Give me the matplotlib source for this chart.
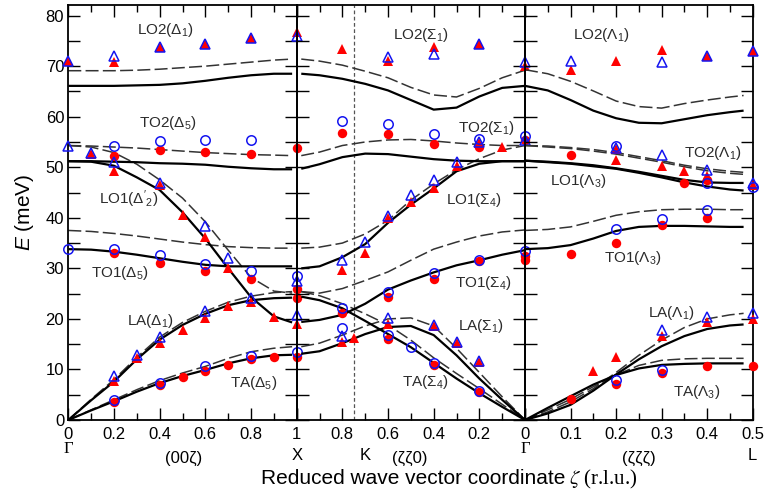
import numpy as np
import matplotlib
matplotlib.use("Agg")
import matplotlib.pyplot as plt
from matplotlib.ticker import FixedLocator, MultipleLocator

plt.rcParams['font.family'] = ['Liberation Sans', 'DejaVu Sans']
plt.rcParams['mathtext.fontset'] = 'custom'
plt.rcParams['mathtext.rm'] = 'Liberation Sans'
plt.rcParams['mathtext.it'] = 'Liberation Sans:italic'
plt.rcParams['mathtext.bf'] = 'Liberation Sans:bold'

# --------------------------------------------------
# Calculated dispersion curves (solid / dashed), meV
# --------------------------------------------------
# Gamma -> X  (00z)
q_gx = [0, 0.1, 0.2, 0.3, 0.4, 0.5, 0.6, 0.7, 0.8, 0.9, 0.98]
gx_lo2 = [66.1, 66.1, 66.1, 66.2, 66.3, 66.6, 67.1, 67.7, 68.2, 68.5, 68.5]
gx_to2 = [51.2, 51.2, 51.1, 51.0, 50.8, 50.7, 50.5, 50.1, 49.8, 49.6, 49.6]
gx_lo1 = [51.2, 51.1, 50.3, 48.0, 45.5, 41.1, 35.9, 30.0, 24.3, 20.5, 19.3]
gx_to1 = [33.8, 33.7, 33.3, 32.7, 32.0, 31.3, 30.7, 30.4, 30.4, 30.4, 30.4]
gx_la = [0, 3.9, 7.6, 12.0, 15.9, 18.8, 21.0, 22.7, 23.7, 24.1, 24.2]
gx_ta = [0, 1.9, 3.7, 5.6, 7.3, 8.7, 9.9, 11.2, 12.2, 12.8, 12.9]
gx_lo2_d = [69.1, 69.1, 69.1, 69.2, 69.4, 69.7, 70.0, 70.4, 70.8, 71.2, 71.4]
gx_to2_d = [54.3, 54.2, 54.0, 53.8, 53.5, 53.2, 52.9, 52.7, 52.5, 52.4, 52.3]
gx_lo1_d = [54.3, 54.0, 52.9, 50.6, 47.5, 43.9, 39.2, 33.6, 28.2, 25.5, 25.1]
gx_to1_d = [37.5, 37.3, 36.9, 36.4, 35.8, 35.2, 34.7, 34.3, 34.1, 34.0, 34.0]
gx_la_d = [0, 4.1, 8.0, 12.4, 16.4, 19.3, 21.5, 23.3, 24.5, 25.2, 25.4]
gx_ta_d = [0, 2.0, 4.0, 6.0, 7.8, 9.3, 10.6, 12.2, 13.5, 14.2, 14.5]

# X -> K -> Gamma  (zz0)
q_xg = [0.98, 0.9, 0.8, 0.7, 0.6, 0.5, 0.4, 0.3, 0.2, 0.1, 0]
xg_lo2 = [68.5, 68.2, 67.5, 66.5, 65.2, 63.3, 61.4, 61.8, 64.0, 65.7, 66.1]
xg_to2 = [49.7, 50.6, 52.0, 52.7, 52.6, 52.1, 51.6, 51.3, 51.2, 51.2, 51.2]
xg_lo1 = [30.0, 30.4, 32.2, 34.8, 39.0, 42.6, 45.8, 49.2, 50.7, 51.2, 51.2]
xg_to1 = [19.4, 19.8, 20.8, 23.0, 25.8, 27.6, 29.2, 30.6, 31.6, 32.7, 33.6]
xg_la = [13.1, 13.6, 15.2, 17.0, 18.4, 18.6, 16.8, 12.8, 8.2, 4.0, 0]
xg_ta = [24.4, 23.7, 22.1, 19.6, 17.0, 14.4, 11.3, 8.2, 5.3, 2.6, 0]
xg_lo2_d = [71.4, 71.0, 70.2, 69.0, 67.7, 65.8, 64.3, 63.9, 65.6, 67.7, 69.2]
xg_to2_d = [52.3, 53.0, 54.3, 55.0, 55.4, 55.5, 55.2, 54.8, 54.5, 54.3, 54.3]
xg_lo1_d = [34.0, 34.2, 35.0, 36.8, 39.5, 43.5, 46.7, 49.5, 51.7, 53.4, 54.3]
xg_to1_d = [25.4, 25.1, 26.0, 27.6, 29.3, 31.6, 33.8, 35.2, 36.4, 37.2, 37.6]
xg_la_d = [14.5, 15.2, 16.8, 18.6, 20.0, 20.2, 18.6, 14.2, 9.4, 4.6, 0]
xg_ta_d = [25.4, 24.6, 23.0, 21.0, 18.8, 15.8, 12.3, 9.2, 6.2, 3.1, 0]

# Gamma -> L  (zzz)
q_gl = [0, 0.05, 0.1, 0.15, 0.2, 0.25, 0.3, 0.35, 0.4, 0.45, 0.48]
gl_lo2 = [66.1, 65.2, 63.3, 61.2, 59.7, 58.8, 58.7, 59.5, 60.3, 60.9, 61.2]
gl_to2 = [51.3, 51.1, 50.8, 50.4, 49.8, 49.1, 48.3, 47.5, 47.0, 46.9, 46.9]
gl_lo1 = [51.3, 51.0, 50.7, 50.2, 49.7, 48.9, 48.0, 47.0, 46.2, 45.6, 45.4]
gl_to1 = [33.8, 34.0, 34.6, 35.9, 37.4, 38.2, 38.4, 38.4, 38.3, 38.2, 38.2]
gl_la = [0, 1.3, 3.0, 5.8, 9.0, 12.0, 14.6, 16.6, 18.0, 18.7, 18.9]
gl_ta = [0, 2.4, 4.7, 7.0, 8.9, 10.2, 10.9, 11.1, 11.2, 11.2, 11.2]
gl_lo2_d = [69.3, 68.5, 67.0, 65.1, 63.1, 62.0, 61.7, 62.6, 63.3, 63.9, 64.2]
gl_to2_d = [54.3, 54.2, 53.9, 53.5, 52.9, 52.1, 51.3, 50.4, 49.7, 49.2, 49.0]
gl_lo1_d = [54.3, 54.0, 53.7, 53.2, 52.6, 51.8, 51.0, 50.1, 49.3, 48.8, 48.6]
gl_to1_d = [37.5, 37.7, 38.2, 39.3, 40.5, 41.2, 41.6, 41.7, 41.7, 41.6, 41.6]
gl_la_d = [0, 1.6, 3.6, 6.2, 9.4, 12.8, 15.8, 18.3, 20.0, 20.8, 21.1]
gl_ta_d = [0, 2.0, 4.1, 6.6, 8.9, 10.8, 11.8, 12.1, 12.2, 12.2, 12.2]

# --------------------------------------------------
# Measured points (zeta, E)
# --------------------------------------------------
gx_red_circ = [(0.2, 52.3), (0.4, 53.5), (0.6, 53.0), (0.8, 52.6), (1.0, 53.9),
               (0.2, 33.0), (0.4, 31.0), (0.6, 29.5), (0.8, 27.9), (1.0, 25.9),
               (1.0, 24.1), (0.2, 3.6), (0.4, 6.9), (0.5, 8.6), (0.6, 9.6),
               (0.7, 10.9), (0.8, 12.0), (0.9, 12.4), (1.0, 12.5)]
gx_red_tri = [(0, 71.1), (0.2, 70.8), (0.4, 73.8), (0.6, 74.4), (0.8, 75.6),
              (1.0, 76.8), (0.1, 52.7), (0.2, 49.2), (0.4, 46.5), (0.5, 40.6),
              (0.6, 36.3), (0.7, 30.0), (0.8, 23.4), (0.9, 20.3), (1.0, 18.9),
              (0.2, 7.8), (0.3, 12.2), (0.4, 15.2), (0.5, 17.9), (0.6, 20.1),
              (0.7, 22.6)]
gx_blue_circ = [(0.2, 54.3), (0.4, 55.2), (0.6, 55.4), (0.8, 55.3), (0, 33.9),
                (0.2, 33.9), (0.4, 32.7), (0.6, 30.9), (0.8, 29.4), (1.0, 28.4),
                (0.2, 4.0), (0.4, 7.3), (0.6, 10.6), (0.8, 12.7), (1.0, 13.4)]
gx_blue_tri = [(0, 71.1), (0.2, 72.1), (0.4, 73.8), (0.6, 74.4), (0.8, 75.6),
               (1.0, 75.9), (0, 54.3), (0.1, 52.9), (0.2, 51.0), (0.4, 46.9),
               (0.6, 38.3), (0.7, 32.0), (1.0, 27.4), (0.8, 24.1), (1.0, 20.8),
               (0.2, 8.7), (0.3, 12.9), (0.4, 16.4), (0.6, 21.5)]

xg_red_circ = [(0.8, 56.8), (0.6, 56.6), (0.4, 54.6), (0.2, 54.1), (0, 55.4),
               (0.8, 21.1), (0.6, 24.4), (0.4, 27.9), (0.2, 31.5), (0, 32.5),
               (0, 31.7), (0.6, 16.0), (0.4, 10.9), (0.2, 5.6)]
xg_red_tri = [(0.8, 73.3), (0.6, 71.0), (0.4, 73.7), (0.2, 74.4), (0, 70.0),
              (0.2, 54.8), (0.1, 54.1), (0.8, 29.7), (0.7, 33.0), (0.6, 39.9),
              (0.5, 43.2), (0.4, 45.9), (0.3, 50.3), (0.8, 15.5), (0.75, 16.2),
              (0.6, 19.0), (0.4, 18.5), (0.3, 15.3), (0.2, 11.5)]
xg_blue_circ = [(0.8, 59.1), (0.6, 58.5), (0.4, 56.6), (0.2, 55.6), (0, 56.1),
                (0.8, 22.1), (0.6, 25.4), (0.4, 29.0), (0.2, 31.7), (0, 33.4),
                (0.8, 18.2), (0.6, 16.8), (0.5, 14.4), (0.4, 11.3), (0.2, 5.8)]
xg_blue_tri = [(0.6, 71.8), (0.4, 72.5), (0.2, 74.4), (0, 70.8), (0.2, 55.0),
               (0, 55.4), (0.8, 31.7), (0.7, 35.3), (0.6, 40.4), (0.5, 44.6),
               (0.4, 47.5), (0.3, 51.0), (0.8, 16.6), (0.6, 20.1), (0.4, 18.8),
               (0.3, 15.4), (0.2, 11.7)]

gl_red_circ = [(0.1, 52.5), (0.35, 46.9), (0.4, 47.5), (0.1, 32.8), (0.2, 35.0),
               (0.3, 38.6), (0.4, 39.9), (0.1, 4.1), (0.2, 7.1), (0.3, 9.2),
               (0.4, 10.7), (0.5, 10.7)]
gl_red_tri = [(0.1, 69.3), (0.2, 71.1), (0.3, 73.1), (0.4, 72.1), (0.5, 72.9),
              (0.2, 53.6), (0.2, 51.4), (0.3, 50.2), (0.35, 49.2), (0.4, 48.2),
              (0.5, 46.5), (0.15, 9.6), (0.2, 12.4), (0.3, 16.6), (0.4, 19.3),
              (0.5, 19.9)]
gl_blue_circ = [(0.2, 54.2), (0.4, 46.9), (0.5, 46.0), (0.2, 37.7), (0.3, 39.8),
                (0.4, 41.6), (0.2, 7.9), (0.3, 9.9)]
gl_blue_tri = [(0.1, 71.1), (0.3, 70.8), (0.4, 72.1), (0.5, 72.9), (0.2, 53.9),
               (0.3, 52.5), (0.4, 49.5), (0.5, 46.9), (0.3, 17.8), (0.4, 20.3),
               (0.5, 21.2)]

# branch labels: (zeta, E, text)
gx_labels = [(0.427, 77.2, r'LO2($\Delta_1$)'), (0.434, 58.8, r'TO2($\Delta_5$)'),
             (0.263, 43.6, r"LO1($\Delta'_2$)"), (0.226, 29.0, r'TO1($\Delta_5$)'),
             (0.361, 19.5, r'LA($\Delta_1$)'), (0.81, 7.3, r'TA($\Delta_5$)')]
xg_labels = [(0.456, 76.2, r'LO2($\Sigma_1$)'), (0.168, 57.8, r'TO2($\Sigma_1$)'),
             (0.225, 43.6, r'LO1($\Sigma_4$)'), (0.183, 27.1, r'TO1($\Sigma_4$)'),
             (0.194, 18.5, r'LA($\Sigma_1$)'), (0.438, 7.6, r'TA($\Sigma_4$)')]
gl_labels = [(0.168, 76.2, r'LO2($\Lambda_1$)'), (0.412, 52.8, r'TO2($\Lambda_1$)'),
             (0.117, 47.2, r'LO1($\Lambda_3$)'), (0.236, 32.0, r'TO1($\Lambda_3$)'),
             (0.321, 21.1, r'LA($\Lambda_1$)'), (0.377, 5.6, r'TA($\Lambda_3$)')]

# --------------------------------------------------
# Figure
# --------------------------------------------------
W, Hpx = 765, 492
fig = plt.figure(figsize=(W / 100, Hpx / 100), dpi=100)

y0 = 1 - 420 / Hpx
h = (420 - 5.5) / Hpx
ax1 = fig.add_axes([68.3 / W, y0, 228.4 / W, h])
ax2 = fig.add_axes([296.7 / W, y0, 228.3 / W, h])
ax3 = fig.add_axes([525.0 / W, y0, 227.7 / W, h])

solid = dict(color='black', lw=1.6, zorder=2, solid_capstyle='butt')
dashed = dict(color='#333333', lw=1.1, ls=(0, (8.5, 2.8)), zorder=2)
red_c = dict(ls='none', marker='o', ms=6.8, color='#ff0000', mew=0, zorder=3, clip_on=False)
red_t = dict(ls='none', marker='^', ms=7.2, color='#ff0000', mew=0, zorder=3, clip_on=False)
blue_c = dict(ls='none', marker='o', ms=6.8, mfc='none', mec='#1414f0', mew=1.1, zorder=4, clip_on=False)
blue_t = dict(ls='none', marker='^', ms=7.2, mfc='none', mec='#1414f0', mew=1.1, zorder=4, clip_on=False)

panels = [
    (ax1, q_gx, [gx_lo2, gx_to2, gx_lo1, gx_to1, gx_la, gx_ta],
     [gx_lo2_d, gx_to2_d, gx_lo1_d, gx_to1_d, gx_la_d, gx_ta_d],
     [gx_red_circ, gx_red_tri, gx_blue_circ, gx_blue_tri], gx_labels),
    (ax2, q_xg, [xg_lo2, xg_to2, xg_lo1, xg_to1, xg_la, xg_ta],
     [xg_lo2_d, xg_to2_d, xg_lo1_d, xg_to1_d, xg_la_d, xg_ta_d],
     [xg_red_circ, xg_red_tri, xg_blue_circ, xg_blue_tri], xg_labels),
    (ax3, q_gl, [gl_lo2, gl_to2, gl_lo1, gl_to1, gl_la, gl_ta],
     [gl_lo2_d, gl_to2_d, gl_lo1_d, gl_to1_d, gl_la_d, gl_ta_d],
     [gl_red_circ, gl_red_tri, gl_blue_circ, gl_blue_tri], gl_labels),
]

for ax, q, sol, das, pts, labs in panels:
    for ys in das:
        ax.plot(q, ys, **dashed)
    for ys in sol:
        ax.plot(q, ys, **solid)
    for p, st in zip(pts, [red_c, red_t, blue_c, blue_t]):
        p = np.array(p)
        ax.plot(p[:, 0], p[:, 1], **st)
    for x, y, s in labs:
        ax.text(x, y, s, ha='center', va='center', fontsize=11, color='#2b2b2b', zorder=5)

ax2.axvline(0.75, color='#555555', lw=0.9, ls=(0, (3, 2)), zorder=1)

# --------------------------------------------------
# Axes styling
# --------------------------------------------------
ax1.set_xlim(0, 1)
ax2.set_xlim(1, 0)
ax3.set_xlim(0, 0.5)

ax1.xaxis.set_major_locator(FixedLocator([0, 0.2, 0.4, 0.6, 0.8, 1.0]))
ax1.xaxis.set_minor_locator(FixedLocator([0.1, 0.3, 0.5, 0.7, 0.9]))
ax1.set_xticklabels(['0', '0.2', '0.4', '0.6', '0.8', '1'])
ax2.xaxis.set_major_locator(FixedLocator([1.0, 0.8, 0.6, 0.4, 0.2, 0]))
ax2.xaxis.set_minor_locator(FixedLocator([0.9, 0.7, 0.5, 0.3, 0.1]))
ax2.set_xticklabels(['', '0.8', '0.6', '0.4', '0.2', '0'])
ax3.xaxis.set_major_locator(FixedLocator([0, 0.1, 0.2, 0.3, 0.4, 0.5]))
ax3.xaxis.set_minor_locator(FixedLocator([0.05, 0.15, 0.25, 0.35, 0.45]))
ax3.set_xticklabels(['', '0.1', '0.2', '0.3', '0.4', '0.5'])

for ax in (ax1, ax2, ax3):
    ax.set_ylim(0, 82)
    ax.set_facecolor('none')
    ax.yaxis.set_major_locator(MultipleLocator(10))
    ax.yaxis.set_minor_locator(MultipleLocator(5))
    ax.tick_params(which='both', direction='in', top=True, right=True,
                   width=1.0, labelsize=12, pad=5)
    ax.tick_params(axis='x', which='major', length=8.5)
    ax.tick_params(axis='x', which='minor', length=5)
    ax.tick_params(axis='y', which='both', length=8.5, pad=3)
    for s in ax.spines.values():
        s.set_linewidth(1.3)
ax2.tick_params(axis='y', labelleft=False)
ax3.tick_params(axis='y', labelleft=False)

# symmetry points and directions below the tick labels
def below(ax, x, y_px, s, **kw):
    ax.text(x, (420 - y_px) / 414.5, s, transform=ax.get_xaxis_transform(),
            ha='center', va='center', fontsize=12, **kw)

below(ax1, 0, 449, 'Γ', family=['Liberation Serif', 'DejaVu Serif'])
below(ax1, 0.503, 458, '(00ζ)')
below(ax1, 1.0, 455, 'X')
below(ax2, 0.70, 455, 'K')
below(ax2, 0.504, 458, '(ζζ0)')
below(ax2, 0.0, 449, 'Γ', family=['Liberation Serif', 'DejaVu Serif'])
below(ax3, 0.25, 458, '(ζζζ)')
below(ax3, 0.5, 455, 'L')

fig.text(565 / W, 1 - 479 / Hpx, 'Reduced wave vector coordinate',
         ha='right', va='center', fontsize=15)
fig.text(569 / W, 1 - 479 / Hpx, r'$\zeta$ (r.l.u.)', ha='left', va='center',
         fontsize=15, family=['Liberation Serif', 'DejaVu Serif'],
         math_fontfamily='stix')
fig.text(24 / W, 1 - 212.7 / Hpx, r'$E$ (meV)', rotation=90,
         ha='center', va='center', fontsize=15)

fig.savefig('out.png', dpi=100)
